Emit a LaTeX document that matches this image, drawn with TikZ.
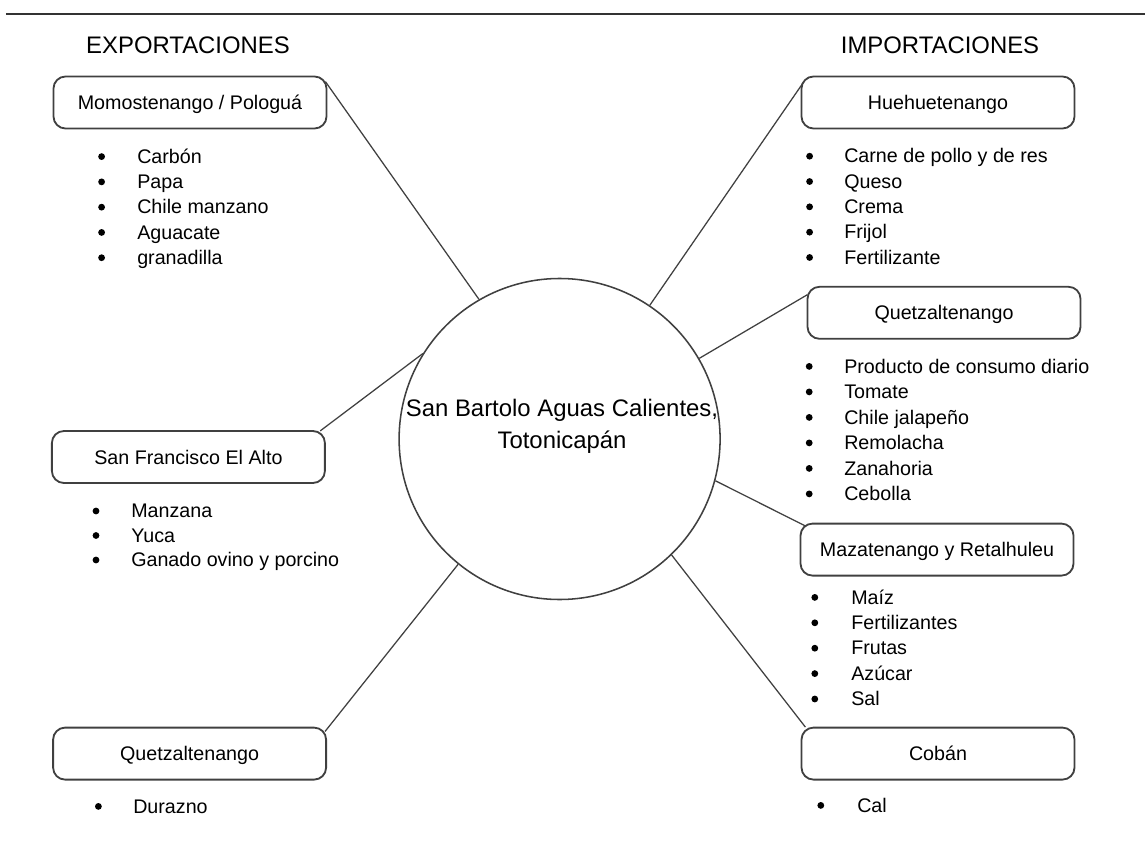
\documentclass[tikz,border=0pt]{standalone}
\usepackage{fontspec}
\setmainfont{Liberation Sans}

\begin{document}
\begin{tikzpicture}[
    box/.style={draw=black!75, line width=1.3pt, rounded corners=0.3cm,
        minimum width=6.825cm, minimum height=1.3cm, inner sep=0pt,
        text height=10pt, text depth=0pt, font=\fontsize{14}{17}\selectfont},
    hub/.style={draw=black!75, line width=1.1pt, circle, minimum size=8.025cm, inner sep=0pt},
    link/.style={draw=black!75, line width=0.9pt},
    head/.style={font=\fontsize{17}{20}\selectfont},
    itm/.style={anchor=base west, inner sep=0pt, font=\fontsize{14}{17}\selectfont},
    bul/.style={fill=black}]

	\useasboundingbox (0,0) rectangle (28.625,-21.075);
	\draw[line width=1.4pt, black!80] (0.15,-0.35) -- (28.625,-0.35);

	\node[head] (exp) at (4.7,-1.125) {EXPORTACIONES};
	\node[head] (imp) at (23.5,-1.125) {IMPORTACIONES};

	% centro
	\node[hub] (sb) at (13.99,-10.975) {};
	\node[align=center, anchor=north, inner sep=0pt, font=\fontsize{17}{22.8}\selectfont]
		(sbname) at (14.05,-9.96) {San Bartolo Aguas Calientes,\\Totonicapán};

	% lugares
	\node[box] (mom) at (4.75,-2.5625) {Momostenango / Pologuá};
	\node[box] (sfa) at (4.71,-11.425) {San Francisco El Alto};
	\node[box] (quetzL) at (4.74,-18.84) {Quetzaltenango};
	\node[box] (hue) at (23.45,-2.5625) {Huehuetenango};
	\node[box] (quetzR) at (23.6,-7.82) {Quetzaltenango};
	\node[box] (maz) at (23.425,-13.74) {Mazatenango y Retalhuleu};
	\node[box] (cob) at (23.45,-18.84) {Cobán};

	% exportaciones
	\foreach \t [count=\i from 0] in {Carbón, Papa, Chile manzano, Aguacate, granadilla} {
		\fill[bul] ({2.54},{-3.915-0.632*\i}) circle (0.085);
		\node[itm] (mom-\i) at ({3.425},{-4.08-0.632*\i}) {\t};
	}
	\foreach \t [count=\i from 0] in {Manzana, Yuca, Ganado ovino y porcino} {
		\fill[bul] ({2.4},{-12.775-0.6125*\i}) circle (0.085);
		\node[itm] (sfa-\i) at ({3.275},{-12.94-0.6125*\i}) {\t};
	}
	\fill[bul] (2.46,-20.16) circle (0.085);
	\node[itm] (quetzL-0) at (3.325,-20.325) {Durazno};

	% importaciones
	\foreach \t [count=\i from 0] in {Carne de pollo y de res, Queso, Crema, Frijol, Fertilizante} {
		\fill[bul] ({20.24},{-3.905-0.633*\i}) circle (0.085);
		\node[itm] (hue-\i) at ({21.1},{-4.07-0.633*\i}) {\t};
	}
	\foreach \t [count=\i from 0] in {Producto de consumo diario, Tomate, Chile jalapeño, Remolacha, Zanahoria, Cebolla} {
		\fill[bul] ({20.23},{-9.16-0.6375*\i}) circle (0.085);
		\node[itm] (quetzR-\i) at ({21.1},{-9.325-0.6375*\i}) {\t};
	}
	\foreach \t [count=\i from 0] in {Maíz, Fertilizantes, Frutas, Azúcar, Sal} {
		\fill[bul] ({20.37},{-14.935-0.635*\i}) circle (0.085);
		\node[itm] (maz-\i) at ({21.275},{-15.1-0.635*\i}) {\t};
	}
	\fill[bul] (20.52,-20.135) circle (0.085);
	\node[itm] (cob-0) at (21.425,-20.3) {Cal};

	% conexiones
	\draw[link] ([shift={(-0.05,-0.15)}]mom.north east) -- (sb.120);
	\draw[link] ([shift={(-0.14,-0.02)}]sfa.north east) -- (sb.148);
	\draw[link] ([shift={(-0.05,-0.12)}]quetzL.north east) -- (sb.231);
	\draw[link] ([shift={(0.05,-0.2)}]hue.north west) -- (sb.56);
	\draw[link] ([shift={(0.02,-0.22)}]quetzR.north west) -- (sb.30);
	\draw[link] ([shift={(0.14,-0.08)}]maz.north west) -- (sb.345);
	\draw[link] ([shift={(0.12,-0.01)}]cob.north west) -- (sb.314);
\end{tikzpicture}
\end{document}
